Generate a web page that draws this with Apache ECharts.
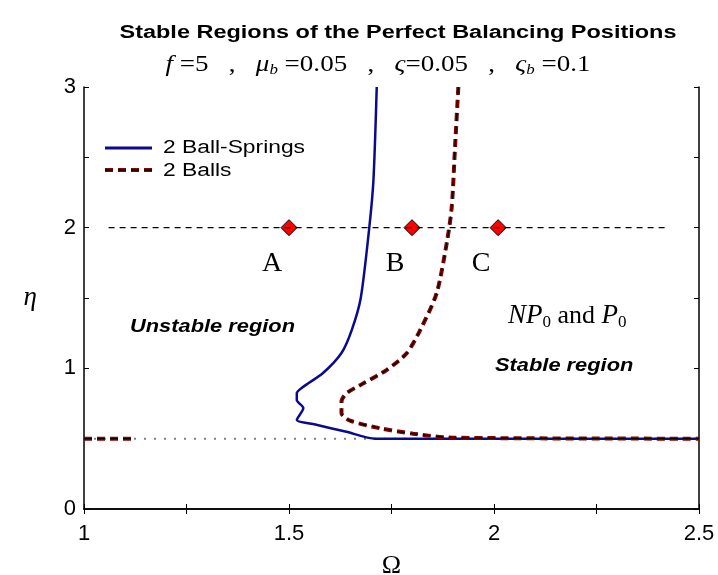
<!DOCTYPE html>
<html><head><meta charset="utf-8">
<script src="https://cdn.jsdelivr.net/npm/echarts@6/dist/echarts.min.js"></script>
<style>html,body{margin:0;padding:0;background:#fff}#c{width:718px;height:575px}</style>
</head><body><div id="c"></div>
<script>
var xTicks = [1, 1.5, 2, 2.5];
var yTicks = [0, 1, 2, 3];
var blueOmega = [1.714,1.706,1.696,1.675,1.653,1.628,1.583,1.534,1.519,1.519,1.535,1.519,1.559,1.64,1.71,2.5];
var blueEta   = [3,2.34,2.006,1.5,1.272,1.109,0.967,0.867,0.824,0.775,0.718,0.633,0.604,0.549,0.5,0.5];
var redOmega = [1.913,1.905,1.897,1.886,1.86,1.82,1.787,1.738,1.681,1.64,1.628,1.628,1.649,1.722,1.803,1.9,2.5];
var redEta   = [3,2.575,2.149,1.912,1.533,1.272,1.107,0.988,0.893,0.822,0.763,0.68,0.628,0.574,0.535,0.507,0.5];
var redLeftOmega = [1, 1.115];
var redLeftEta = [0.5, 0.5];
var refOmega = [1, 2.5];
var refEta = [0.5, 0.5];
var lineOmega = [1.06, 2.42];
var lineEta = [2, 2];
var pointOmega = [1.5, 1.8, 2.01];
var pointEta = [2, 2, 2];
var pointNames = ['A', 'B', 'C'];
var seriesNames = ['2 Ball-Springs', '2 Balls'];
var titleText = 'Stable Regions of the Perfect Balancing Positions';

function zip(a, b) { return a.map(function (v, i) { return [v, b[i]]; }); }

var mctx = document.createElement('canvas').getContext('2d');
function tw(text, font) { mctx.font = font; return mctx.measureText(text).width; }

var SANS = '"Liberation Sans", Arial, sans-serif';
var SERIF = '"Liberation Serif", "Times New Roman", serif';

var titleFont = 'bold 18px ' + SANS;
var titleScale = 557 / tw(titleText, titleFont);

var subSize = 24;
var subSegs = [
  ['i', 'f'], ['n', ' =5   ,   '], ['i', 'μ'], ['s', 'b'], ['n', ' =0.05   ,   '],
  ['i', 'ς'], ['n', '=0.05   ,   '], ['i', 'ς'], ['s', 'b'], ['n', ' =0.1']
];
var subFonts = {i: 'italic ' + subSize + 'px ' + SERIF, n: subSize + 'px ' + SERIF, s: 'italic 15px ' + SERIF};
var subW = subSegs.reduce(function (s, g) { return s + tw(g[1], subFonts[g[0]]); }, 0);
var subScale = 425 / subW;
var subRich = subSegs.map(function (g) { return '{' + g[0] + '|' + g[1] + '}'; }).join('');

var legFont = '18px ' + SANS;
var legScale = 142 / tw(seriesNames[0], legFont);
var regFont = 'italic bold 19px ' + SANS;
var regScale = 165 / tw('Unstable region', regFont);

var chart = echarts.init(document.getElementById('c'));
var redDash = [8, 5];
var option = {
  animation: false,
  grid: {left: 84, right: 19, top: 87, bottom: 66, containLabel: false, outerBoundsMode: 'none'},
  xAxis: [
    {type: 'value', min: 1, max: 2.5, interval: 0.25, name: 'Ω', nameLocation: 'middle', nameGap: 44,
     nameTextStyle: {fontFamily: SERIF, fontSize: 26, color: '#000'},
     axisLine: {lineStyle: {color: '#000', width: 1.5}},
     axisTick: {inside: true, length: 5, lineStyle: {color: '#000'}},
     axisLabel: {margin: 14, fontFamily: SANS, fontSize: 22, color: '#000',
       formatter: function (v) { return xTicks.some(function (t) { return Math.abs(t - v) < 1e-6; }) ? String(v) : ''; }},
     splitLine: {show: false}},
    {type: 'value', position: 'top', min: 1, max: 2.5, interval: 0.25,
     axisLine: {lineStyle: {color: '#000', width: 1.5}},
     axisTick: {inside: true, length: 5, lineStyle: {color: '#000'}},
     axisLabel: {show: false}, splitLine: {show: false}}
  ],
  yAxis: [
    {type: 'value', min: 0, max: 3, interval: 0.5, name: 'η', nameLocation: 'middle', nameGap: 47, nameRotate: 0,
     nameTextStyle: {fontFamily: SERIF, fontStyle: 'italic', fontSize: 27, color: '#000'},
     axisLine: {show: true, lineStyle: {color: '#000', width: 1.5}},
     axisTick: {show: true, inside: true, length: 5, lineStyle: {color: '#000'}},
     axisLabel: {margin: 8, fontFamily: SANS, fontSize: 22, color: '#000',
       formatter: function (v) { return yTicks.some(function (t) { return Math.abs(t - v) < 1e-6; }) ? String(v) : ''; }},
     splitLine: {show: false}},
    {type: 'value', position: 'right', min: 0, max: 3, interval: 0.5,
     axisLine: {show: true, lineStyle: {color: '#000', width: 1.5}},
     axisTick: {show: true, inside: true, length: 5, lineStyle: {color: '#000'}},
     axisLabel: {show: false}, splitLine: {show: false}}
  ],
  series: [
    {type: 'line', data: zip(refOmega, refEta), symbol: 'none', silent: true,
     lineStyle: {color: '#808080', width: 2, type: [2, 8]}},
    {type: 'line', data: zip(lineOmega, lineEta), symbol: 'none', silent: true,
     lineStyle: {color: '#000', width: 1.3, type: [6, 5]}},
    {name: seriesNames[0], type: 'line', data: zip(blueOmega, blueEta), symbol: 'none', smooth: 0.25,
     lineStyle: {color: '#0a0a8f', width: 2.5}},
    {name: seriesNames[1], type: 'line', data: zip(redOmega, redEta), symbol: 'none', smooth: 0.25,
     lineStyle: {color: '#8b0000', width: 4, type: redDash}},
    {type: 'line', data: zip(redOmega, redEta), symbol: 'none', smooth: 0.25, silent: true,
     lineStyle: {color: '#000', width: 1.3, type: redDash}},
    {type: 'line', data: zip(redLeftOmega, redLeftEta), symbol: 'none', silent: true,
     lineStyle: {color: '#8b0000', width: 4, type: redDash}},
    {type: 'line', data: zip(redLeftOmega, redLeftEta), symbol: 'none', silent: true,
     lineStyle: {color: '#000', width: 1.3, type: redDash}},
    {type: 'scatter', data: pointOmega.map(function (v, i) { return {value: [v, pointEta[i]], name: pointNames[i]}; }),
     symbol: 'diamond', symbolSize: 16, itemStyle: {color: '#ff0000', borderColor: '#000', borderWidth: 1, opacity: 1},
     label: {show: true, position: 'bottom', offset: [-17, 8], formatter: '{b}',
       fontFamily: SERIF, fontSize: 28, color: '#000'}}
  ],
  graphic: [
    {type: 'text', x: 398, y: 33, scaleX: titleScale, silent: true,
     style: {text: titleText, font: titleFont, fill: '#000', align: 'center', verticalAlign: 'middle'}},
    {type: 'text', x: 378, y: 65, scaleX: subScale, silent: true,
     style: {text: subRich, fill: '#000', align: 'center', verticalAlign: 'middle',
       rich: {
         i: {font: subFonts.i, fill: '#000'},
         n: {font: subFonts.n, fill: '#000'},
         s: {font: subFonts.s, fill: '#000', padding: [10, 0, 0, 0]}
       }}},
    {type: 'line', silent: true, shape: {x1: 105, y1: 148, x2: 152, y2: 148},
     style: {stroke: '#0a0a8f', lineWidth: 3}},
    {type: 'line', silent: true, shape: {x1: 105, y1: 170, x2: 152, y2: 170},
     style: {stroke: '#8b0000', lineWidth: 4, lineDash: redDash}},
    {type: 'line', silent: true, shape: {x1: 105, y1: 170, x2: 152, y2: 170},
     style: {stroke: '#000', lineWidth: 1.3, lineDash: redDash}},
    {type: 'text', x: 163, y: 148, scaleX: legScale, silent: true,
     style: {text: seriesNames[0], font: legFont, fill: '#000', align: 'left', verticalAlign: 'middle'}},
    {type: 'text', x: 163, y: 171, scaleX: legScale, silent: true,
     style: {text: seriesNames[1], font: legFont, fill: '#000', align: 'left', verticalAlign: 'middle'}},
    {type: 'text', x: 130, y: 327, scaleX: regScale, silent: true,
     style: {text: 'Unstable region', font: regFont, fill: '#000', align: 'left', verticalAlign: 'middle'}},
    {type: 'text', x: 495, y: 366, scaleX: regScale, silent: true,
     style: {text: 'Stable region', font: regFont, fill: '#000', align: 'left', verticalAlign: 'middle'}},
    {type: 'text', x: 508, y: 316, silent: true, style: {
      text: '{i|NP}{s|0}{n| and }{i|P}{s|0}', align: 'left', verticalAlign: 'middle',
      rich: {
        i: {font: 'italic 27px ' + SERIF, fill: '#000'},
        n: {font: '26px ' + SERIF, fill: '#000'},
        s: {font: '17px ' + SERIF, fill: '#000', padding: [14, 0, 0, 0]}
      }}}
  ]
};
chart.setOption(option);
</script></body></html>
